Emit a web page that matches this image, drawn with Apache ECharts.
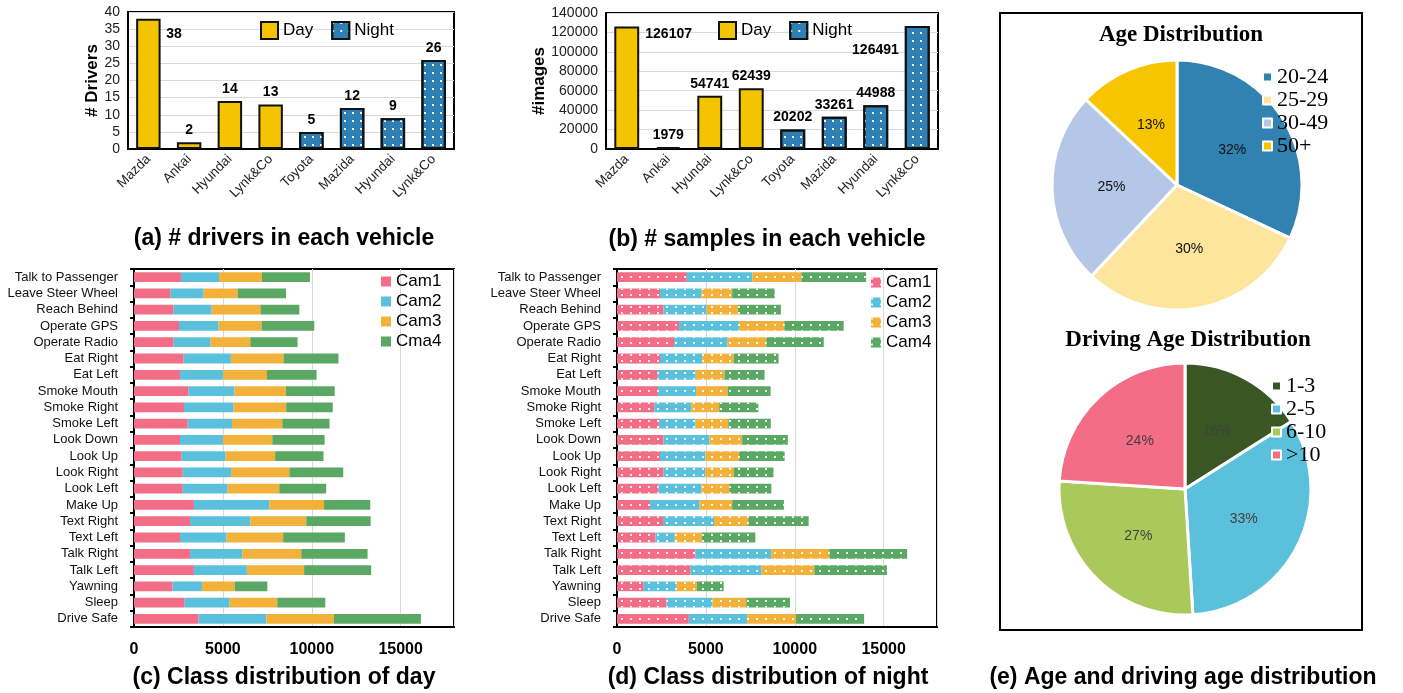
<!DOCTYPE html>
<html>
<head>
<meta charset="utf-8">
<script src="https://cdn.jsdelivr.net/npm/echarts@6/dist/echarts.min.js"></script>
</head>
<body style="margin:0;background:#fff">
<div id="main" style="width:1403px;height:693px"></div>
<script>
// (a) and (b): vehicles, first four recorded by day, last four by night
var vehicles = ['Mazda', 'Ankai', 'Hyundai', 'Lynk&Co', 'Toyota', 'Mazida', 'Hyundai', 'Lynk&Co'];
var shifts = ['Day', 'Day', 'Day', 'Day', 'Night', 'Night', 'Night', 'Night'];
var drivers = [38, 2, 14, 13, 5, 12, 9, 26];
var images = [126107, 1979, 54741, 62439, 20202, 33261, 44988, 126491];

// (c) and (d): classes listed bottom to top
var classes = ['Drive Safe', 'Sleep', 'Yawning', 'Talk Left', 'Talk Right', 'Text Left', 'Text Right',
  'Make Up', 'Look Left', 'Look Right', 'Look Up', 'Look Down', 'Smoke Left', 'Smoke Right',
  'Smoke Mouth', 'Eat Left', 'Eat Right', 'Operate Radio', 'Operate GPS', 'Reach Behind',
  'Leave Steer Wheel', 'Talk to Passenger'];

var dayCam1 = [3630, 2850, 2170, 3370, 3150, 2590, 3150, 3370, 2740, 2740, 2680, 2590, 3020, 2810, 3070, 2590, 2790, 2230, 2530, 2230, 2060, 2640];
var dayCam2 = [3820, 2530, 1650, 2980, 2940, 2620, 3390, 4250, 2530, 2720, 2470, 2420, 2490, 2790, 2580, 2440, 2660, 2080, 2230, 2140, 1860, 2140];
var dayCam3 = [3800, 2680, 1840, 3220, 3320, 3180, 3150, 3070, 2900, 3280, 2790, 2770, 2830, 2960, 2890, 2450, 2960, 2230, 2420, 2740, 1910, 2420];
var dayCam4 = [4890, 2700, 1840, 3770, 3730, 3470, 3620, 2600, 2640, 3030, 2720, 2940, 2660, 2620, 2750, 2790, 3090, 2660, 2960, 2190, 2720, 2700];

var nightCam1 = [4040, 2780, 1500, 4130, 4410, 2160, 2590, 1860, 2330, 2610, 2420, 2610, 2370, 2100, 2310, 2290, 2420, 3210, 3490, 2610, 2420, 3930];
var nightCam2 = [3290, 2590, 1840, 4000, 4260, 1090, 2870, 2780, 2420, 2350, 2550, 2590, 2050, 2070, 2140, 2140, 2370, 3010, 3380, 2420, 2330, 3680];
var nightCam3 = [2740, 1900, 1160, 2970, 3270, 1520, 1920, 1840, 1560, 1620, 1900, 1840, 1840, 1580, 1770, 1620, 1780, 2180, 2540, 1770, 1730, 2760];
var nightCam4 = [3830, 2460, 1500, 4080, 4380, 3010, 3400, 2910, 2370, 2220, 2560, 2570, 2390, 2200, 2420, 2250, 2520, 3230, 3340, 2420, 2390, 3640];

var dayNames = ['Cam1', 'Cam2', 'Cam3', 'Cma4'];
var nightNames = ['Cam1', 'Cam2', 'Cam3', 'Cam4'];

// (e)
var ageGroups = ['20-24', '25-29', '30-49', '50+'];
var ageShare = [32, 30, 25, 13];
var drivingGroups = ['1-3', '2-5', '6-10', '>10'];
var drivingShare = [16, 33, 27, 24];

var SANS = 'Liberation Sans, Arial, sans-serif';
var SERIF = 'Liberation Serif, Times New Roman, serif';
var YELLOW = '#F5C400', BLUE = '#2E80B4';
var camColors = ['#F26D85', '#5BC0DB', '#F2B13B', '#5BA864'];
var ageColors = ['#3182B0', '#FEE59D', '#B4C7E7', '#F6C500'];
var drivingColors = ['#3A5723', '#5BC0DB', '#A9C95B', '#F26D85'];

var dots = { symbol: 'rect', symbolSize: 1, color: 'rgba(255,255,255,0.95)', dashArrayX: [1.5, 6], dashArrayY: [1.5, 6] };
var smallDots = { symbol: 'rect', symbolSize: 1, color: 'rgba(255,255,255,0.9)', dashArrayX: [1.5, 7], dashArrayY: [1.5, 4] };

var chart = echarts.init(document.getElementById('main'));

function pick(vals, s) {
  return vals.map(function (v, i) { return shifts[i] === s ? v : '-'; });
}

// a couple of value labels sit beside their bar instead of on top
function withLabels(vals, tweaks) {
  return vals.map(function (v, i) {
    if (tweaks[i] && v !== '-') return { value: v, label: tweaks[i] };
    return v;
  });
}

function vehicleSeries(vals, idx, tweaks) {
  return ['Day', 'Night'].map(function (s) {
    return {
      name: s, type: 'bar', xAxisIndex: idx, yAxisIndex: idx, stack: 'v' + idx,
      barWidth: '60%',
      data: withLabels(pick(vals, s), tweaks),
      itemStyle: s === 'Day'
        ? { color: YELLOW, borderColor: '#111', borderWidth: 2 }
        : { color: BLUE, borderColor: '#111', borderWidth: 2, decal: dots },
      label: { show: true, position: 'top', fontWeight: 'bold', fontSize: 14, color: '#000', fontFamily: SANS }
    };
  });
}

function camSeries(cams, names, idx, patterned) {
  return cams.map(function (vals, k) {
    var st = { color: camColors[k] };
    if (patterned) st.decal = smallDots;
    return {
      name: patterned ? names[k] + ' ' : names[k],
      type: 'bar', xAxisIndex: idx, yAxisIndex: idx, stack: 'c' + idx,
      barWidth: '60%', data: vals, itemStyle: st
    };
  });
}

var blackLine = { show: true, lineStyle: { color: '#000', width: 2 } };
var gridLine = { show: true, lineStyle: { color: '#d9d9d9', width: 1 } };
var plain = function (v) { return String(v); };

function vehicleX(idx) {
  return {
    gridIndex: idx, type: 'category', data: vehicles,
    axisLine: blackLine,
    axisTick: { inside: true, length: 3, lineStyle: { color: '#000', width: 2 } },
    axisLabel: { rotate: 45, interval: 0, fontSize: 13.5, color: '#222', fontFamily: SANS, margin: 8 }
  };
}
function valueY(idx, max, step, name, gap) {
  return {
    gridIndex: idx, type: 'value', min: 0, max: max, interval: step,
    name: name, nameLocation: 'middle', nameGap: gap,
    nameTextStyle: { fontWeight: 'bold', fontSize: 17, color: '#000', fontFamily: SANS },
    axisLine: blackLine, axisTick: { show: false }, splitLine: gridLine,
    axisLabel: { fontSize: 14, color: '#222', fontFamily: SANS, margin: 8, formatter: plain }
  };
}
function countX(idx) {
  return {
    gridIndex: idx, type: 'value', min: 0, max: 18000, interval: 5000,
    axisLine: blackLine, axisTick: { show: false }, splitLine: gridLine,
    axisLabel: { fontWeight: 'bold', fontSize: 16, color: '#000', fontFamily: SANS, margin: 15,
      showMaxLabel: false, formatter: plain }
  };
}
function classY(idx) {
  return {
    gridIndex: idx, type: 'category', data: classes,
    axisLine: blackLine,
    axisTick: { show: true, length: 4, lineStyle: { color: '#000', width: 2 } },
    axisLabel: { interval: 0, fontSize: 13, color: '#111', fontFamily: SANS, margin: 16 }
  };
}

function caption(text, x, y, font) {
  return {
    type: 'text', x: x, y: y,
    style: { text: text, font: font, fill: '#000', align: 'center', verticalAlign: 'middle' }
  };
}

var boxGrid = { show: true, borderColor: '#000', borderWidth: 2 };
var keyText = { fontSize: 17, color: '#000', fontFamily: SANS };
var pieKeyText = { fontSize: 22, color: '#000', fontFamily: SERIF };

var option = {
  animation: false,
  backgroundColor: '#fff',
  textStyle: { fontFamily: SANS },
  grid: [
    Object.assign({ left: 128, top: 12, width: 326, height: 137 }, boxGrid),
    Object.assign({ left: 606, top: 13, width: 332, height: 136 }, boxGrid),
    Object.assign({ left: 134, top: 269, width: 320, height: 358 }, boxGrid),
    Object.assign({ left: 617, top: 269, width: 320, height: 358 }, boxGrid)
  ],
  xAxis: [vehicleX(0), vehicleX(1), countX(2), countX(3)],
  yAxis: [
    valueY(0, 40, 5, '# Drivers', 24),
    valueY(1, 140000, 20000, '#images', 49),
    classY(2), classY(3)
  ],
  legend: [
    { data: ['Day', 'Night'], left: 260, top: 21, padding: 0, icon: 'rect',
      itemWidth: 17, itemHeight: 17, itemGap: 18, textStyle: keyText },
    { data: ['Day', 'Night'], left: 718, top: 21, padding: 0, icon: 'rect',
      itemWidth: 17, itemHeight: 17, itemGap: 18, textStyle: keyText },
    { data: dayNames, orient: 'vertical', left: 381, top: 273, padding: 0, icon: 'rect',
      itemWidth: 10, itemHeight: 10, itemGap: 3, textStyle: keyText },
    { data: nightNames.map(function (n) { return n + ' '; }), orient: 'vertical', left: 871, top: 274,
      padding: 0, icon: 'rect', itemWidth: 10, itemHeight: 10, itemGap: 3,
      formatter: function (n) { return n.trim(); }, textStyle: keyText },
    { data: ageGroups, orient: 'vertical', left: 1262, top: 66, padding: 0, icon: 'rect',
      itemWidth: 9, itemHeight: 9, itemGap: 1, textStyle: pieKeyText },
    { data: drivingGroups, orient: 'vertical', left: 1271, top: 375, padding: 0, icon: 'rect',
      itemWidth: 9, itemHeight: 9, itemGap: 1, textStyle: pieKeyText }
  ],
  series: []
    .concat(vehicleSeries(drivers, 0, {
      0: { position: [30, 8], align: 'left', verticalAlign: 'top' }
    }))
    .concat(vehicleSeries(images, 1, {
      0: { position: [31, 1], align: 'left', verticalAlign: 'top' },
      7: { position: [-6, 24], align: 'right', verticalAlign: 'middle' }
    }))
    .concat(camSeries([dayCam1, dayCam2, dayCam3, dayCam4], dayNames, 2, false))
    .concat(camSeries([nightCam1, nightCam2, nightCam3, nightCam4], nightNames, 3, true))
    .concat([
      {
        type: 'pie', center: [1177, 185], radius: 125,
        data: ageGroups.map(function (g, i) { return { name: g, value: ageShare[i] }; }),
        color: ageColors,
        itemStyle: { borderColor: '#fff', borderWidth: 3 },
        label: { position: 'inside', formatter: '{d}%', fontSize: 14, color: '#111', fontFamily: SANS },
        labelLine: { show: false }
      },
      {
        type: 'pie', center: [1185, 489], radius: 126,
        data: drivingGroups.map(function (g, i) { return { name: g, value: drivingShare[i] }; }),
        color: drivingColors,
        itemStyle: { borderColor: '#fff', borderWidth: 3 },
        label: { position: 'inside', formatter: '{d}%', fontSize: 14, color: '#404040', fontFamily: SANS },
        labelLine: { show: false }
      }
    ]),
  graphic: [
    { type: 'rect', shape: { x: 1000, y: 13, width: 362, height: 617 },
      style: { fill: 'none', stroke: '#000', lineWidth: 2 } },
    caption('Age Distribution', 1181, 35, 'bold 23px ' + SERIF),
    caption('Driving Age Distribution', 1188, 340, 'bold 23px ' + SERIF),
    caption('(a) # drivers in each vehicle', 284, 239, 'bold 23px ' + SANS),
    caption('(b) # samples in each vehicle', 767, 240, 'bold 23px ' + SANS),
    caption('(c) Class distribution of day', 284, 678, 'bold 23px ' + SANS),
    caption('(d) Class distribution of night', 768, 678, 'bold 23px ' + SANS),
    caption('(e) Age and driving age distribution', 1183, 678, 'bold 23px ' + SANS)
  ]
};

chart.setOption(option);
</script>
</body>
</html>
